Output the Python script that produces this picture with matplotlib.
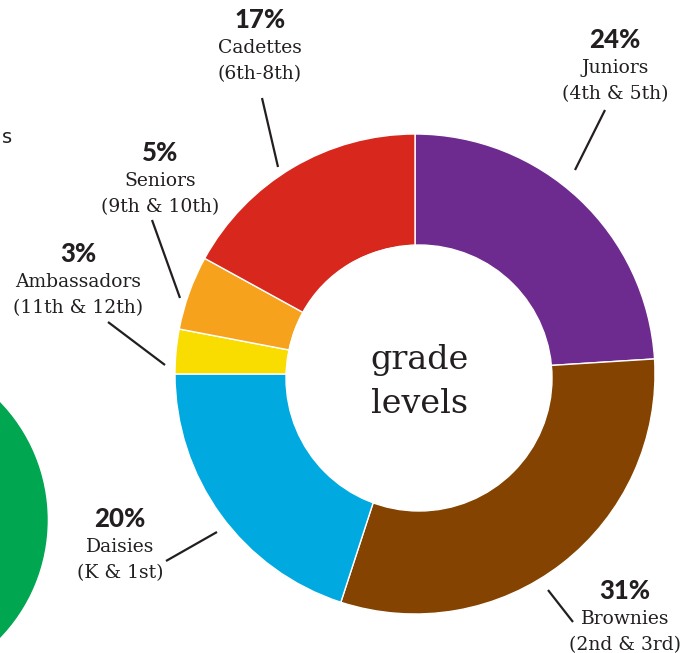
import matplotlib.pyplot as plt
from matplotlib.patches import Circle

# grade level shares, clockwise from the top
levels = ['Juniors', 'Brownies', 'Daisies', 'Ambassadors', 'Seniors', 'Cadettes']
grades = ['(4th & 5th)', '(2nd & 3rd)', '(K & 1st)', '(11th & 12th)', '(9th & 10th)', '(6th-8th)']
shares = [24, 31, 20, 3, 5, 17]
colors = ['#6E2B8F', '#844300', '#00A9E0', '#F9DC00', '#F7A21C', '#D8281E']

# label block centres (x, y of the percent line) and leader lines, in pixels
label_pos = [(615, 40), (625, 591), (120, 519), (78, 254), (160, 153), (260, 20)]
leaders = [((605, 110), (575, 170)), ((548, 590), (573, 622)), ((166, 561), (217, 532)),
           ((108, 322), (165, 365)), ((152, 220), (180, 298)), ((262, 98), (278, 167))]

ink = '#231F20'
serif = ['DejaVu Serif']
bold = ['Lato', 'DejaVu Sans']

fig = plt.figure(figsize=(6.94, 6.53), dpi=100)
ax = fig.add_axes([0, 0, 1, 1])

ax.pie(shares, colors=colors, center=(415, 374), radius=240, startangle=-90,
       counterclock=True, wedgeprops=dict(width=112, edgecolor='white', linewidth=1))
ax.add_patch(Circle((419, 378), 133, color='white', zorder=5))

# neighbouring chart bits cut off at the left
ax.add_patch(Circle((-122, 520), 169, color='#00A650'))
ax.text(7, 143, 's', ha='center', va='baseline', fontsize=14, color=ink)

for (x, y), name, grade, share, (p0, p1) in zip(label_pos, levels, grades, shares, leaders):
    ax.text(x, y, f'{share}%', ha='center', va='center', fontsize=18.5,
            fontweight='black', family=bold, color=ink)
    ax.text(x, y + 28, name, ha='center', va='center', fontsize=13.5, family=serif, color=ink)
    ax.text(x, y + 54, grade, ha='center', va='center', fontsize=13.5, family=serif, color=ink)
    ax.plot([p0[0], p1[0]], [p0[1], p1[1]], color=ink, lw=1.6, solid_capstyle='butt')

ax.text(420, 360, 'grade', ha='center', va='center', fontsize=24, family=serif, color=ink, zorder=6)
ax.text(420, 404, 'levels', ha='center', va='center', fontsize=24, family=serif, color=ink, zorder=6)

ax.set_xlim(0, 694)
ax.set_ylim(653, 0)
ax.set_aspect('equal')
ax.axis('off')

plt.savefig('out.png', dpi=100)
